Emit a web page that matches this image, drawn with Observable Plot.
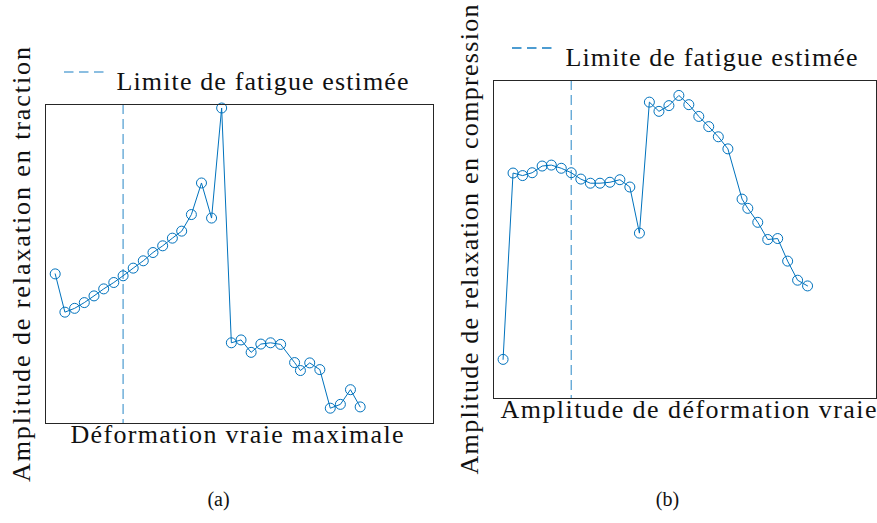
<!DOCTYPE html>
<html><head><meta charset="utf-8">
<script src="https://cdn.jsdelivr.net/npm/d3@7"></script>
<script src="https://cdn.jsdelivr.net/npm/@observablehq/plot@0.6"></script>
<style>
body{margin:0;background:#fff}
#fig{position:relative;width:877px;height:523px;overflow:hidden;background:#fff}
#fig svg{position:absolute;top:0;overflow:visible}
</style></head><body><div id="fig"></div>
<script>
// ---- data (frame-relative units 0..100) ----
const strainA = [2.5,5.0,7.5,10.0,12.5,15.0,17.6,20.0,22.6,25.2,27.7,30.2,32.7,35.1,37.6,40.2,42.8,45.4,47.9,50.4,53.0,55.5,58.0,60.6,64.2,65.7,68.1,70.7,73.4,76.0,78.6,81.1];
const relaxTraction = [46.9,34.9,36.1,37.9,40.0,42.2,44.2,46.3,48.7,51.0,53.6,55.7,58.1,60.3,65.5,75.4,64.4,98.9,25.3,26.2,22.3,24.9,25.3,24.8,19.1,16.6,19.0,16.9,4.8,6.0,10.6,5.2];
const strainB = [2.5,5.1,7.6,10.1,12.7,15.1,17.7,20.3,22.8,25.3,27.8,30.4,33.0,35.6,38.1,40.7,43.2,45.8,48.4,51.0,53.6,56.2,58.7,61.2,64.9,66.4,69.0,71.6,74.2,76.8,79.4,82.0];
const relaxCompression = [12.3,70.9,70.1,71.0,73.1,73.4,72.4,71.0,69.0,67.7,67.7,68.0,68.8,66.5,52.0,93.2,90.3,92.1,95.3,92.4,88.7,85.5,82.3,78.5,62.7,59.8,55.4,50.0,50.3,43.2,37.2,35.4];
const fatigueLimitA = [20.0];
const fatigueLimitB = [20.3];
const legendLabel = "Limite de fatigue estimée";
const yLabels = ["Amplitude de relaxation en traction", "Amplitude de relaxation en compression"];
const xLabels = ["Déformation vraie maximale", "Amplitude de déformation vraie"];
const captions = ["(a)", "(b)"];

const blue = "#0072BD";
const font = "'Liberation Serif', 'Times New Roman', serif";

function legendMark(lineOpacity) {
  return (index, scales, values, dims) => {
    const x0 = dims.marginLeft + 19, y = dims.marginTop - 32;
    const g = d3.create("svg:g")
      .attr("stroke", blue).attr("stroke-opacity", lineOpacity)
      .attr("stroke-width", 1.4).attr("stroke-linecap", "butt");
    for (const off of [0, 15, 30]) {
      g.append("line").attr("x1", x0 + off).attr("x2", x0 + off + 9.5).attr("y1", y).attr("y2", y);
    }
    return g.node();
  };
}

function panel(xs, ys, limit, yLabel, xLabel, caption, o) {
  const data = xs.map((x, i) => ({x, y: ys[i]}));
  return Plot.plot({
    width: o.width, height: 523,
    marginLeft: o.ml, marginRight: o.mr, marginTop: o.mt, marginBottom: o.mb,
    x: {domain: [0, 100], axis: null},
    y: {domain: [0, 100], axis: null},
    style: {fontFamily: font, fontSize: "26px", background: "transparent", color: "#111"},
    marks: [
      Plot.ruleX(limit, {stroke: blue, strokeOpacity: 0.65, strokeWidth: 1.3, strokeDasharray: "10,5"}),
      Plot.line(data, {x: "x", y: "y", stroke: blue, strokeWidth: 1}),
      Plot.dot(data, {x: "x", y: "y", r: 5, stroke: blue, strokeWidth: 1, fill: "none"}),
      Plot.frame({stroke: "#262626", strokeWidth: 1}),
      Plot.text([yLabel], {text: d => d, frameAnchor: "left", textAnchor: "middle", dx: -24, dy: o.ydy, rotate: -90, fill: "#111"}),
      Plot.text([xLabel], {text: d => d, frameAnchor: "bottom", textAnchor: "middle", dx: o.xdx, dy: o.xdy, fill: "#111"}),
      Plot.text([legendLabel], {text: d => d, frameAnchor: "top-left", dx: o.ldx, dy: o.ldy, textAnchor: "start", fill: "#111"}),
      Plot.text([caption], {text: d => d, frameAnchor: "bottom", textAnchor: "middle", dx: o.cdx, dy: o.cdy, fontSize: 20, fill: "#111"}),
      legendMark(o.legOp)
    ]
  });
}

const fig = document.getElementById("fig");
const a = panel(strainA, relaxTraction, fatigueLimitA, yLabels[0], xLabels[0], captions[0],
  {width: 440, ml: 45, mr: 7, mt: 104, mb: 100, ydy: 0.5, xdx: -2.5, xdy: 19, ldx: 71, ldy: -33, cdx: -21, cdy: 82, legOp: 0.65});
a.style.left = "0px";
const b = panel(strainB, relaxCompression, fatigueLimitB, yLabels[1], xLabels[1], captions[1],
  {width: 437, ml: 53, mr: 1, mt: 80, mb: 125, ydy: 0, xdx: 3.5, xdy: 19.5, ldx: 72, ldy: -32.5, cdx: -17.5, cdy: 107, legOp: 1});
b.style.left = "440px";
fig.append(a, b);

// stretch letter spacing so text widths match the reference
const widths = new Map([
  [legendLabel, 292], [yLabels[0], 435], [yLabels[1], 470], [xLabels[0], 333], [xLabels[1], 376]
]);
d3.select(fig).selectAll("text").each(function() {
  const w = widths.get(this.textContent);
  if (!w) return;
  const natural = this.getComputedTextLength();
  const n = this.textContent.length;
  const ls = (w - natural) / (n - 1);
  this.style.letterSpacing = ls + "px";
  if (getComputedStyle(this).textAnchor === "middle") {
    // compensate the trailing spacing so the text stays centred
    const cur = +(this.getAttribute("x") || 0);
    this.setAttribute("x", cur + ls / 2);
  }
});
</script>
</body></html>
